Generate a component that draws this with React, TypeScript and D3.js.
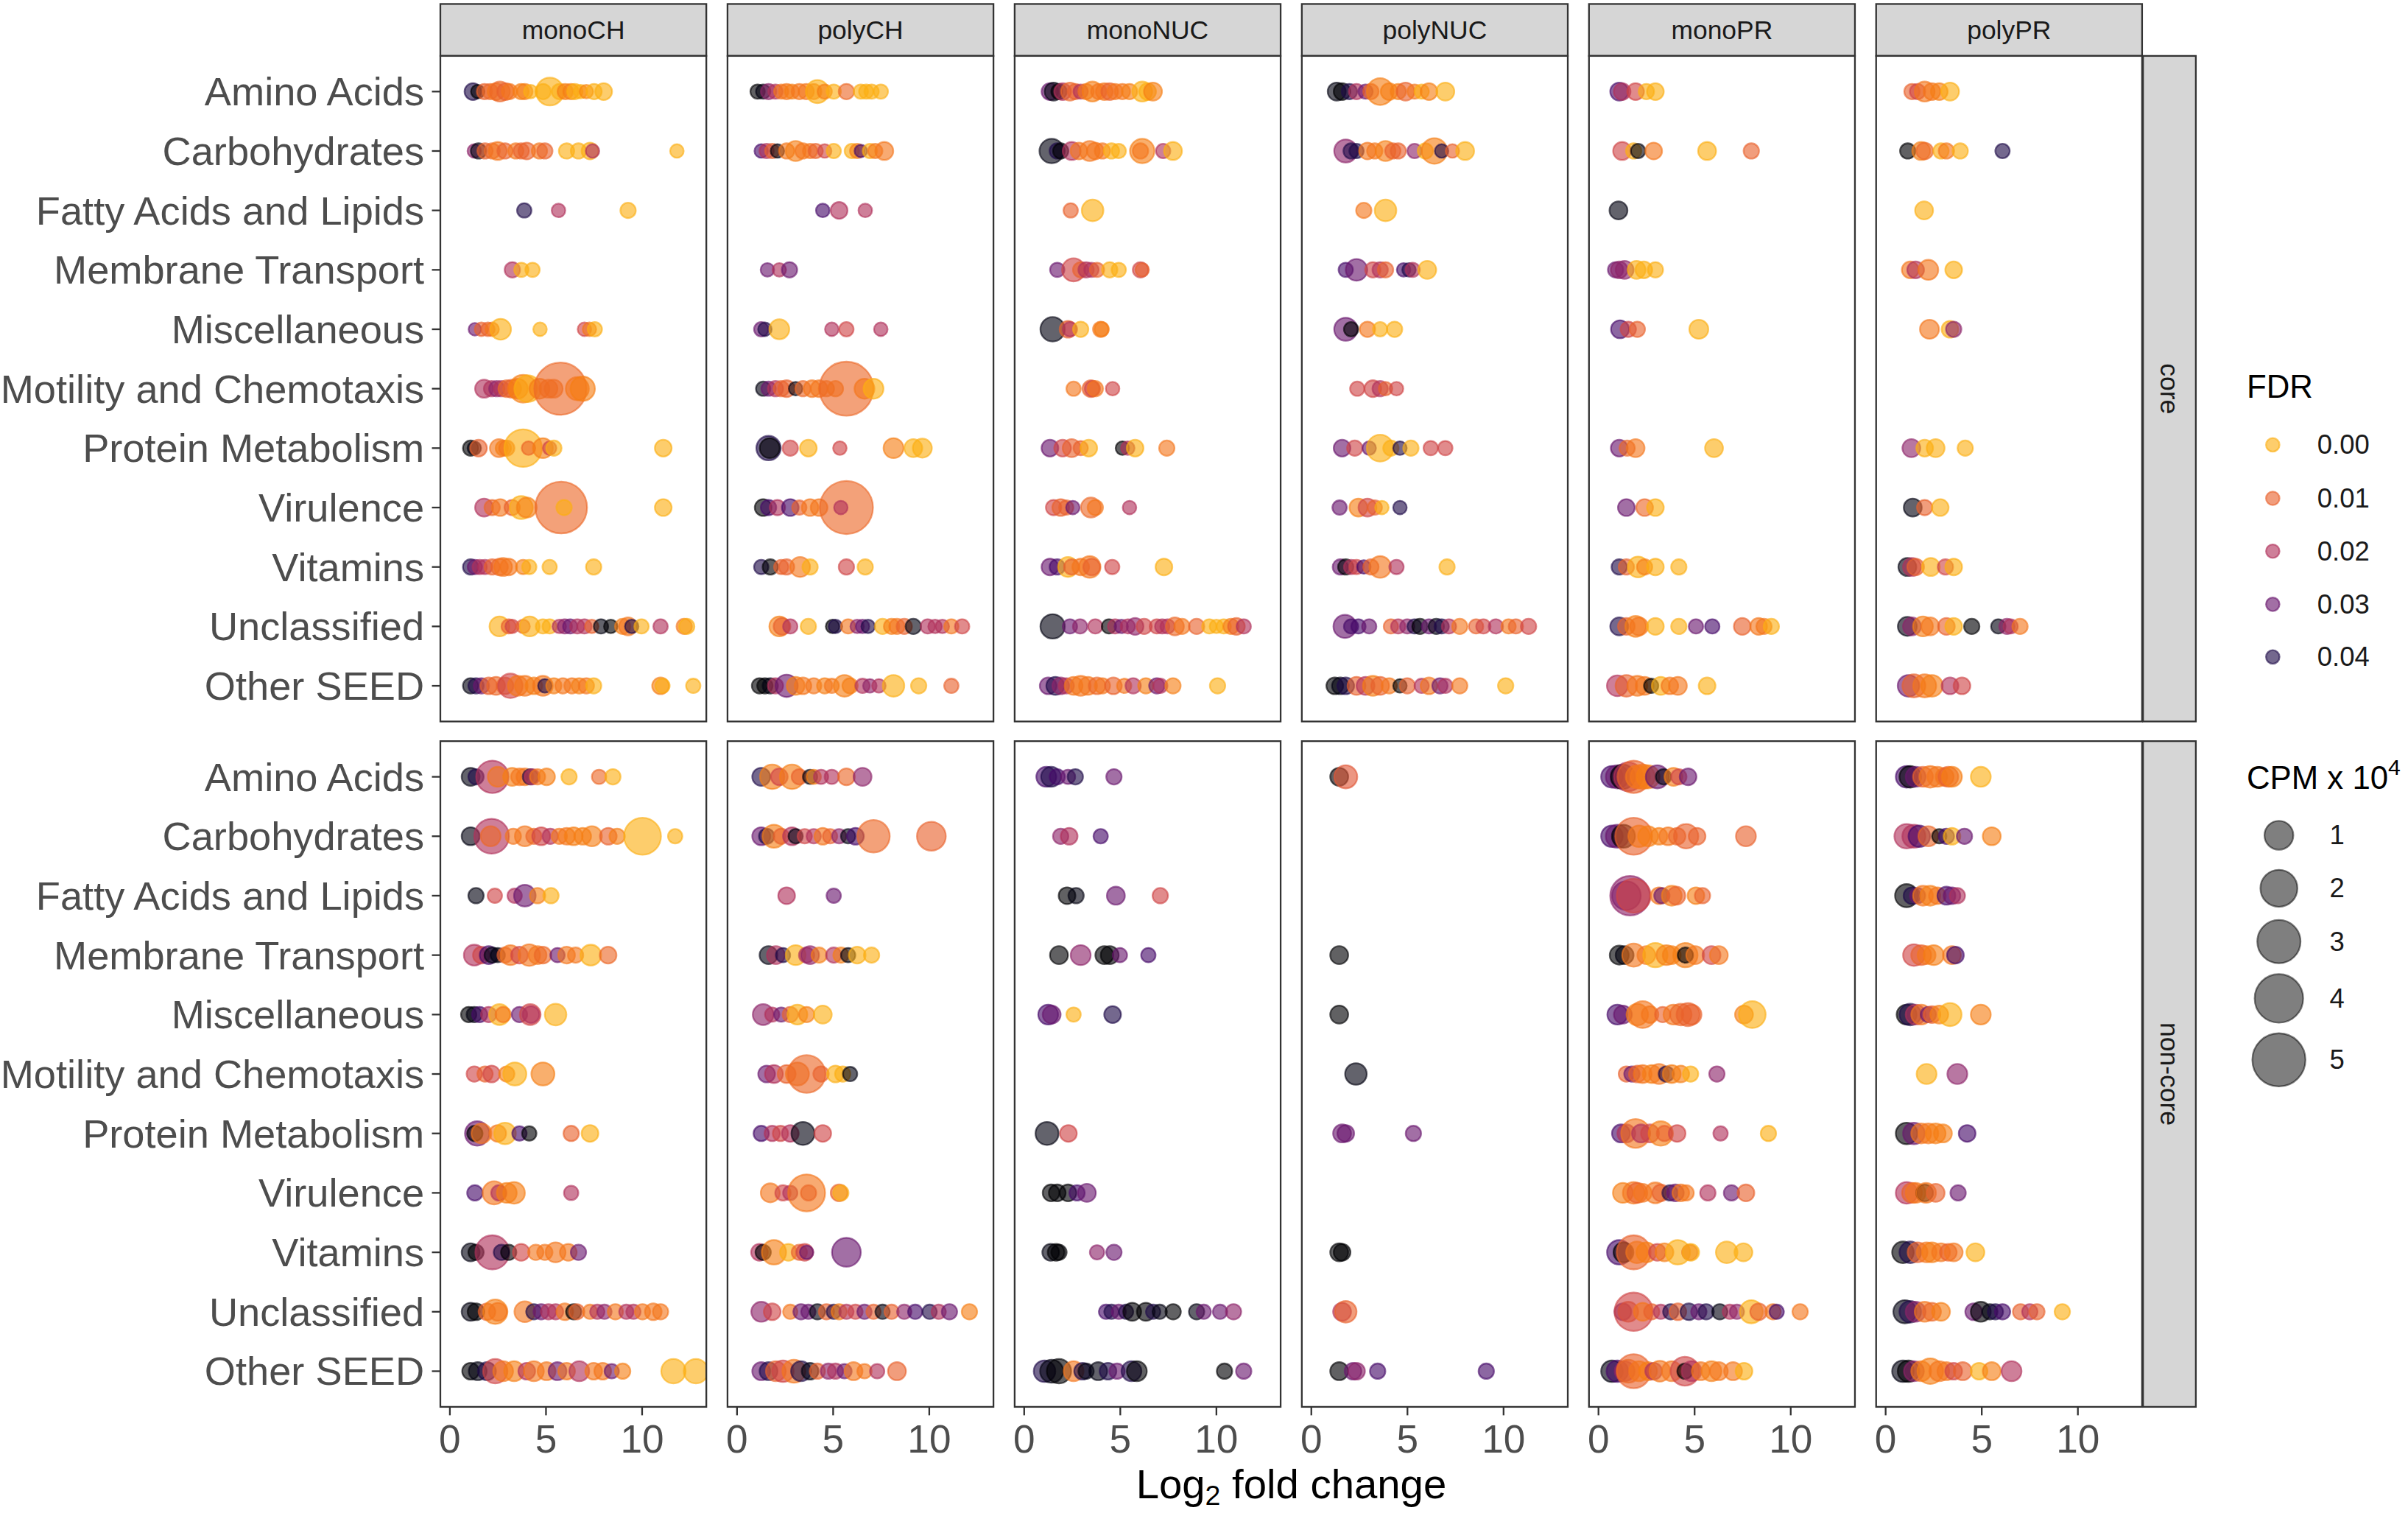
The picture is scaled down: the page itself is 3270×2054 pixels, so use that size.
import React from 'react';
import * as d3 from 'd3';

// [log2 fold change, FDR, CPM x 10^4]
type Pt = [number, number, number];

const categories = [
  'Amino Acids', 'Carbohydrates', 'Fatty Acids and Lipids', 'Membrane Transport',
  'Miscellaneous', 'Motility and Chemotaxis', 'Protein Metabolism', 'Virulence',
  'Vitamins', 'Unclassified', 'Other SEED',
];
const conditions = ['monoCH', 'polyCH', 'monoNUC', 'polyNUC', 'monoPR', 'polyPR'];
const groups = ['core', 'non-core'];
const xTicks = [0, 5, 10];
const fdrBreaks = [0, 0.01, 0.02, 0.03, 0.04];
const cpmBreaks = [1, 2, 3, 4, 5];

const monoCH_core: Pt[][] = [
  [[1.2,.04,.15],[1.45,.05,.05],[1.8,.01,.1],[2.1,.009,.1],[2.4,.007,.15],[2.6,.009,.3],[2.9,.01,.15],[3.1,.007,.1],[3.7,.006,.1],[3.9,.006,.1],[4.2,0,.05],[4.85,0,.1],[5.2,0,.9],[5.7,0,.1],[6.0,.006,.1],[6.3,.006,.1],[6.5,0,.1],[6.8,0,.05],[7.1,.005,.05],[7.5,0,.1],[8.0,0,.15]],
  [[1.27,.025,.05],[1.49,.045,.1],[1.83,.01,.1],[2.2,.009,.1],[2.49,.007,.2],[2.87,.01,.1],[3.43,.007,.1],[3.71,.01,.1],[4.0,.01,.15],[4.66,.007,.1],[4.94,.01,.1],[6.07,0,.1],[6.69,0,.1],[7.29,0,.15],[7.42,.02,.05],[11.81,0,.05]],
  [[3.87,.04,.07],[5.65,.02,.05],[9.27,0,.1]],
  [[3.25,.02,.1],[3.72,0,.07],[4.3,0,.07]],
  [[1.3,.03,.03],[1.64,.01,.05],[1.98,.01,.05],[2.2,.007,.05],[2.64,0,.35],[4.69,0,.05],[7.0,.015,.05],[7.26,.007,.05],[7.54,0,.07]],
  [[1.78,.02,.2],[2.17,.02,.1],[2.44,.025,.1],[2.68,.02,.1],[2.96,.009,.15],[3.24,.01,.2],[3.53,.007,.3],[3.81,.006,.9],[4.05,0,.8],[4.66,.006,.3],[5.13,.007,.2],[5.4,.007,.2],[5.75,.009,4.8],[6.63,.007,.5],[6.91,.006,.6]],
  [[1.08,.05,.1],[1.27,.045,.05],[1.49,.01,.15],[2.55,.007,.2],[2.78,.006,.1],[2.96,.007,.1],[3.81,0,2.1],[4.09,.009,.05],[4.84,.006,.3],[5.19,.015,.05],[5.41,0,.1],[11.1,0,.15]],
  [[1.78,.02,.2],[2.2,.009,.1],[2.62,.007,.15],[3.24,.01,.1],[3.71,0,.5],[4.0,.006,.3],[5.79,.009,4.7],[5.94,0,.1],[11.1,0,.15]],
  [[1.08,.04,.1],[1.3,.03,.07],[1.55,.02,.07],[1.83,.02,.07],[2.2,.01,.1],[2.58,.009,.15],[2.77,.007,.2],[3.06,.007,.15],[3.81,.006,.07],[4.13,0,.07],[5.19,0,.07],[7.48,0,.1]],
  [[2.58,0,.3],[3.06,.01,.07],[3.24,.015,.05],[3.81,.01,.05],[4.15,0,.3],[4.84,0,.07],[5.19,0,.07],[5.69,.02,.05],[5.98,.025,.07],[6.26,.03,.07],[6.63,.02,.07],[7.0,.02,.07],[7.38,.01,.05],[7.86,.045,.07],[8.37,.05,.05],[8.99,.006,.1],[9.27,.007,.2],[9.46,.04,.05],[9.97,0,.07],[10.96,.02,.07],[12.19,.007,.1],[12.32,0,.1]],
  [[1.08,.045,.1],[1.36,.04,.1],[1.64,.03,.1],[2.02,.01,.15],[2.4,.009,.2],[2.87,.01,.15],[3.15,.015,.6],[3.53,.007,.3],[3.9,.007,.3],[4.37,.006,.15],[4.84,.007,.3],[4.94,.04,.05],[5.41,.006,.1],[5.88,.007,.1],[6.35,.007,.1],[6.73,.006,.1],[7.1,.007,.1],[7.48,0,.1],[10.96,.006,.15],[11.06,0,.07],[12.66,0,.07]],
];

const polyCH_core: Pt[][] = [
  [[1.07,.05,.07],[1.36,.045,.07],[1.64,.025,.1],[2.0,.02,.07],[2.3,.007,.07],[2.58,.007,.1],[2.86,.006,.07],[3.24,.007,.1],[3.6,.007,.1],[3.99,.007,.1],[4.18,0,.5],[4.56,.006,.07],[5.03,0,.07],[5.69,.009,.1],[6.44,0,.07],[6.72,0,.07],[7.0,0,.07],[7.48,0,.07]],
  [[1.26,.035,.05],[1.54,.02,.07],[1.83,.01,.07],[2.1,.045,.05],[2.58,.007,.1],[3.05,.006,.3],[3.43,.007,.1],[3.8,.007,.07],[4.09,.01,.07],[4.56,.015,.05],[5.03,0,.07],[5.97,0,.07],[6.25,.006,.07],[6.44,.035,.03],[6.91,0,.07],[7.19,.007,.07],[7.66,.007,.2]],
  [[4.46,.035,.05],[5.31,.02,.15],[6.67,.02,.05]],
  [[1.58,.03,.05],[2.2,.02,.05],[2.73,.03,.1]],
  [[1.26,.03,.07],[1.45,.04,.05],[2.2,0,.3],[4.93,.02,.05],[5.69,.015,.07],[7.48,.02,.05]],
  [[1.36,.045,.07],[1.64,.03,.07],[2.0,.02,.1],[2.3,.01,.1],[2.58,.01,.15],[3.05,.045,.05],[3.43,.009,.1],[3.9,.007,.15],[4.27,.007,.15],[4.65,.007,.1],[5.12,.006,.1],[5.69,.009,5.2],[6.63,.007,.3],[7.1,0,.3]],
  [[1.64,.04,.6],[1.7,.05,.3],[2.77,.015,.1],[3.71,0,.15],[5.35,.015,.05],[8.14,.006,.3],[9.17,0,.2],[9.64,0,.25]],
  [[1.36,.05,.15],[1.64,.035,.1],[2.1,.02,.1],[2.77,.035,.15],[3.24,.01,.07],[3.8,.007,.15],[4.27,.007,.15],[5.69,.009,5.0],[5.4,.02,.05]],
  [[1.26,.04,.07],[1.73,.05,.1],[2.3,.01,.07],[2.58,.01,.1],[3.28,.007,.3],[3.8,0,.1],[5.69,.015,.1],[6.67,0,.1]],
  [[2.2,.006,.3],[2.34,.01,.15],[2.77,.02,.07],[3.71,0,.1],[4.97,.05,.05],[5.12,.04,.05],[5.78,.007,.07],[6.25,.025,.05],[6.53,.03,.05],[6.82,.04,.05],[7.57,0,.1],[8.04,.006,.1],[8.32,.007,.1],[8.7,.01,.1],[9.17,.045,.1],[9.92,.02,.07],[10.3,.02,.05],[10.68,.02,.05],[11.15,.007,.07],[11.71,.015,.07]],
  [[1.17,.05,.1],[1.45,.05,.1],[1.73,.045,.1],[2.0,.02,.1],[2.58,.03,.45],[3.05,.006,.2],[3.43,.007,.15],[3.99,.007,.1],[4.56,.006,.1],[4.93,.007,.07],[5.59,.006,.4],[5.88,.006,.1],[6.53,.02,.07],[6.91,.025,.05],[7.38,.02,.05],[8.14,0,.4],[9.45,0,.1],[11.15,.01,.07]],
];

const monoNUC_core: Pt[][] = [
  [[1.34,.03,.15],[1.53,.045,.2],[1.81,.05,.1],[2.0,.02,.15],[2.38,.009,.2],[2.66,.01,.1],[2.94,.02,.07],[3.22,.007,.1],[3.55,.006,.3],[3.88,.007,.1],[4.17,.007,.15],[4.45,.01,.15],[4.73,.007,.1],[5.11,.007,.1],[5.48,.006,.1],[6.14,0,.3],[6.42,0,.15],[6.7,.006,.2]],
  [[1.43,.045,.6],[1.72,.04,.1],[1.9,.05,.1],[2.47,.02,.2],[2.85,.007,.15],[3.41,.007,.3],[3.7,.007,.15],[4.07,.007,.1],[4.54,0,.1],[4.92,0,.07],[6.14,.006,.6],[6.05,.007,.1],[7.23,.02,.07],[7.74,0,.2]],
  [[2.42,.01,.07],[3.56,0,.4]],
  [[1.72,.03,.07],[2.57,.015,.5],[2.94,.01,.1],[3.22,.02,.1],[3.5,.02,.07],[3.79,.01,.07],[4.45,0,.1],[4.92,0,.07],[6.05,.015,.1],[6.14,.01,.05]],
  [[1.48,.045,.6],[2.28,.01,.15],[2.38,.02,.07],[2.94,0,.1],[3.98,.007,.1],[4.03,.006,.07]],
  [[2.57,.007,.07],[3.47,.01,.15],[3.55,.015,.1],[3.7,.007,.1],[4.6,.015,.05]],
  [[1.34,.03,.15],[2.0,.015,.15],[2.47,.01,.2],[2.94,.01,.07],[3.36,0,.15],[5.11,.05,.05],[5.39,.02,.05],[5.77,0,.15],[7.42,.007,.1]],
  [[1.53,.015,.1],[1.9,.01,.15],[2.19,.01,.07],[2.53,.03,.05],[3.47,.009,.3],[3.7,.007,.1],[5.48,.02,.05]],
  [[1.34,.03,.15],[1.72,.035,.1],[2.28,0,.3],[2.47,.01,.1],[2.94,.007,.15],[3.41,.007,.4],[3.51,.01,.15],[4.58,.015,.07],[7.27,0,.15]],
  [[1.48,.045,.6],[2.38,.03,.07],[2.91,.025,.07],[3.7,.02,.07],[4.41,.05,.07],[4.73,.02,.07],[5.05,.03,.05],[5.39,.02,.07],[5.77,.025,.15],[6.24,.015,.1],[6.9,.015,.07],[7.18,.02,.07],[7.46,.02,.07],[7.84,.009,.2],[8.21,.007,.1],[8.97,.01,.1],[9.63,0,.07],[10.0,0,.05],[10.38,0,.07],[10.76,.006,.1],[11.04,.01,.15],[11.42,.02,.07]],
  [[1.25,.03,.15],[1.62,.04,.2],[1.9,.025,.15],[2.19,.02,.1],[2.57,.007,.2],[2.94,.007,.3],[3.32,.007,.2],[3.79,.009,.15],[4.07,.007,.1],[4.64,.01,.15],[5.2,.007,.07],[5.67,.02,.1],[6.33,.006,.1],[6.9,.03,.1],[7.08,.02,.07],[7.74,.006,.1],[10.06,0,.1]],
];

const polyNUC_core: Pt[][] = [
  [[1.32,.045,.2],[1.6,.05,.15],[1.98,.04,.1],[2.35,.02,.1],[2.82,.03,.07],[3.1,.01,.1],[3.58,.006,.8],[4.05,.006,.15],[4.52,.006,.1],[4.9,.01,.2],[5.37,.007,.07],[5.74,0,.07],[6.12,.006,.15],[6.97,0,.2]],
  [[1.79,.025,.5],[2.07,.04,.1],[2.35,.04,.07],[2.92,.007,.15],[3.3,.007,.1],[3.86,.006,.3],[4.24,.01,.1],[4.52,.01,.1],[5.37,.025,.07],[5.93,0,.1],[6.4,.006,.7],[6.78,.04,.05],[7.34,.01,.05],[8.0,0,.2]],
  [[2.73,.007,.1],[3.86,0,.4]],
  [[1.79,.035,.07],[2.35,.03,.4],[3.2,.015,.1],[3.58,.02,.1],[3.86,.01,.1],[4.8,.035,.05],[5.08,.04,.05],[5.27,.02,.07],[6.03,0,.2]],
  [[1.79,.03,.5],[2.07,.05,.07],[2.92,.007,.1],[3.58,0,.07],[4.33,0,.1]],
  [[2.39,.015,.07],[3.2,.015,.15],[3.58,.02,.1],[3.86,.01,.05],[4.43,.015,.05]],
  [[1.6,.03,.15],[2.26,.015,.1],[3.01,.03,.05],[3.58,0,.8],[4.14,0,.1],[4.61,.04,.05],[5.18,0,.1],[6.21,.015,.07],[6.97,.015,.07]],
  [[1.47,.03,.07],[2.45,.006,.2],[2.92,.015,.2],[3.3,.01,.07],[3.67,0,.05],[4.61,.04,.05]],
  [[1.51,.03,.1],[1.79,.05,.1],[2.07,.02,.07],[2.35,.015,.07],[2.73,.035,.05],[3.1,.01,.1],[3.58,.007,.4],[4.43,.02,.07],[7.06,0,.1]],
  [[1.75,.03,.5],[2.07,.035,.07],[2.45,.035,.07],[3.01,.03,.07],[4.14,.01,.07],[4.52,.02,.07],[4.99,.025,.07],[5.37,.04,.07],[5.65,.05,.1],[6.12,.03,.07],[6.5,.045,.1],[6.78,.04,.07],[7.16,.02,.07],[7.72,.007,.1],[8.57,.01,.07],[8.95,.015,.07],[9.6,.02,.07],[10.26,.007,.07],[10.64,.01,.07],[11.3,.015,.1]],
  [[1.22,.05,.15],[1.51,.045,.15],[1.79,.04,.15],[2.35,.01,.2],[2.82,.02,.2],[3.2,.006,.3],[3.58,.01,.2],[4.05,.007,.1],[4.61,.05,.05],[4.99,.01,.1],[5.74,.02,.07],[6.12,.007,.15],[6.69,.03,.1],[6.97,.02,.07],[7.72,.007,.1],[10.11,0,.1]],
];

const monoPR_core: Pt[][] = [
  [[1.08,.035,.2],[1.23,.02,.15],[1.93,.015,.15],[2.49,0,.1],[2.96,0,.15]],
  [[1.23,.015,.2],[1.83,0,.1],[2.06,.045,.07],[2.87,.007,.15],[5.65,0,.2],[7.95,.01,.1]],
  [[1.04,.045,.2]],
  [[0.89,.03,.1],[1.08,.025,.15],[1.36,.025,.2],[1.98,0,.2],[2.36,0,.15],[2.96,0,.1]],
  [[1.12,.035,.2],[1.55,.015,.1],[2.02,.01,.1],[5.22,0,.25]],
  [],
  [[1.08,.03,.15],[1.49,.009,.1],[1.93,.007,.2],[6.01,0,.2]],
  [[1.45,.03,.15],[2.4,.009,.15],[2.96,0,.15]],
  [[1.08,.04,.1],[1.45,.01,.1],[2.06,0,.35],[2.4,.006,.1],[2.96,0,.15],[4.18,0,.1]],
  [[1.08,.04,.2],[1.45,.01,.15],[1.93,.006,.35],[2.11,.007,.2],[2.96,0,.15],[4.18,0,.1],[5.07,.03,.07],[5.92,.035,.07],[7.48,.01,.15],[8.33,.007,.15],[8.61,.007,.1],[8.99,0,.1]],
  [[0.98,.02,.35],[1.45,.01,.4],[2.02,.007,.3],[2.4,.007,.2],[2.74,.05,.07],[3.24,0,.2],[3.71,.007,.15],[4.13,.007,.2],[5.65,0,.15]],
];

const polyPR_core: Pt[][] = [
  [[1.37,.01,.1],[1.66,.015,.1],[2.03,.007,.3],[2.41,.007,.15],[2.79,.006,.15],[3.35,0,.2]],
  [[1.15,.05,.1],[1.85,.006,.2],[2.03,.009,.15],[2.88,0,.1],[3.16,.007,.1],[3.88,0,.1],[6.08,.04,.07]],
  [[2.0,0,.2]],
  [[1.28,.007,.15],[1.56,.02,.15],[2.22,.007,.3],[3.54,0,.15]],
  [[2.28,.007,.25],[3.35,0,.15],[3.54,.025,.1]],
  [],
  [[1.34,.025,.2],[2.03,0,.15],[2.6,0,.2],[4.14,0,.1]],
  [[1.41,.045,.2],[2.03,.01,.1],[2.84,0,.15]],
  [[1.13,.045,.2],[1.37,.02,.2],[1.56,.01,.15],[2.35,0,.2],[3.11,.015,.1],[3.54,0,.15]],
  [[1.13,.045,.25],[1.37,.025,.2],[1.94,.006,.3],[2.32,.007,.2],[3.16,.01,.15],[3.54,0,.15],[4.48,.05,.1],[5.86,.045,.07],[6.31,.025,.1],[6.5,.02,.07],[6.99,.007,.1]],
  [[1.19,.03,.4],[1.47,.01,.5],[2.03,.007,.5],[2.41,.006,.4],[3.35,.02,.15],[3.97,.015,.15]],
];

const monoCH_noncore: Pt[][] = [
  [[1.08,.045,.2],[1.36,.04,.1],[2.21,.02,1.4],[2.49,.007,.3],[3.24,.006,.2],[3.62,.007,.15],[3.9,.007,.15],[4.19,.04,.1],[4.28,.02,.1],[4.56,.007,.1],[5.03,.006,.15],[6.2,0,.1],[7.76,.009,.07],[8.48,0,.1]],
  [[1.08,.045,.2],[2.17,.02,1.7],[2.12,.009,.3],[3.3,.007,.1],[3.9,.007,.3],[4.37,.009,.1],[4.75,.015,.2],[5.22,.02,.1],[5.69,.007,.1],[6.07,.007,.15],[6.44,.006,.2],[6.91,.006,.15],[7.39,.006,.3],[8.24,.01,.15],[8.7,.006,.1],[10.02,0,2.0],[11.72,0,.07]],
  [[1.36,.045,.1],[2.34,.015,.07],[3.37,.02,.07],[3.9,.03,.4],[4.56,.006,.1],[5.26,0,.1]],
  [[1.27,.02,.35],[1.64,.015,.15],[2.02,.035,.2],[2.2,.045,.1],[2.49,.045,.07],[2.87,.01,.1],[3.15,.007,.3],[3.62,.015,.15],[4.13,.007,.4],[4.56,.007,.2],[4.84,.009,.15],[5.6,.03,.07],[6.07,.007,.15],[6.54,.007,.1],[7.33,0,.35],[8.23,.009,.15]],
  [[0.98,.05,.1],[1.27,.045,.1],[1.55,.035,.1],[2.02,.02,.1],[2.58,0,.35],[2.77,.007,.1],[3.62,.03,.1],[4.18,.015,.35],[4.22,.02,.15],[5.5,0,.4]],
  [[1.27,.015,.1],[1.83,.01,.1],[2.17,.015,.15],[2.96,.006,.1],[3.38,0,.5],[4.84,.006,.5]],
  [[1.42,.03,.6],[1.3,.05,.1],[1.64,.007,.3],[2.49,.007,.15],[2.87,0,.4],[3.62,.035,.07],[4.13,.05,.07],[6.31,.01,.1],[7.29,0,.15]],
  [[1.3,.035,.1],[2.3,.007,.5],[2.55,.02,.1],[2.96,.006,.3],[3.34,.006,.4],[6.31,.02,.07]],
  [[1.08,.045,.2],[1.36,.05,.1],[2.21,.02,1.6],[2.68,.04,.1],[3.06,.05,.1],[3.71,.015,.15],[4.47,.007,.1],[4.94,.007,.1],[5.5,.007,.3],[6.16,.007,.15],[6.69,.03,.1]],
  [[1.08,.045,.2],[1.36,.05,.15],[1.93,.01,.15],[2.36,.006,.6],[2.5,.007,.2],[3.9,.007,.35],[4.37,.04,.1],[4.75,.03,.1],[5.13,.02,.1],[5.5,.02,.1],[5.98,.007,.15],[6.44,.05,.1],[6.6,.01,.1],[7.29,.007,.07],[7.67,.02,.07],[8.04,.025,.07],[8.61,.007,.1],[9.18,.02,.07],[9.55,.02,.07],[10.02,.007,.1],[10.58,.007,.15],[10.96,.007,.1]],
  [[1.08,.05,.15],[1.45,.045,.2],[1.93,.04,.2],[2.36,.015,.6],[2.77,.007,.3],[3.34,.006,.3],[4.0,.02,.15],[4.37,.007,.3],[5.03,.007,.2],[5.6,.03,.2],[6.07,.007,.15],[6.73,.02,.3],[7.48,.007,.15],[7.95,.007,.15],[8.42,.03,.07],[8.99,.006,.1],[11.63,0,.6],[12.8,0,.6]],
];

const polyCH_noncore: Pt[][] = [
  [[1.26,.04,.2],[1.83,.006,.6],[2.2,.015,.15],[2.86,.006,.6],[3.24,.01,.1],[3.8,.045,.07],[3.99,.006,.07],[4.37,.02,.07],[4.93,.02,.07],[5.69,.009,.15],[6.53,.025,.2]],
  [[1.26,.03,.2],[1.54,.04,.1],[1.92,.006,.5],[2.3,.01,.1],[2.86,.02,.2],[3.05,.045,.07],[3.52,.015,.07],[3.99,.02,.07],[4.46,.007,.15],[4.84,.01,.07],[5.31,.025,.07],[5.78,.045,.07],[6.16,.035,.15],[7.1,.009,1.4],[10.11,.01,1.0]],
  [[2.58,.02,.15],[5.03,.03,.07]],
  [[1.64,.045,.2],[2.02,.02,.2],[2.39,.04,.07],[3.05,0,.3],[3.62,.02,.1],[3.8,.025,.2],[4.27,.006,.1],[5.03,.02,.1],[5.41,.006,.1],[5.78,.045,.07],[6.25,0,.15],[7.0,0,.1]],
  [[1.36,.025,.35],[1.83,.02,.07],[2.3,.03,.07],[2.77,.01,.1],[3.14,0,.3],[3.62,.006,.1],[4.46,0,.2]],
  [[1.54,.03,.15],[1.92,.02,.2],[2.58,.01,.2],[3.14,.007,.5],[3.62,.009,2.1],[4.37,.01,.1],[5.12,0,.15],[5.5,0,.1],[5.88,.045,.07]],
  [[1.26,.035,.1],[1.83,.02,.1],[2.26,.015,.1],[2.77,.02,.15],[3.43,.045,.5],[4.46,.015,.15]],
  [[1.73,.007,.25],[2.39,.015,.1],[2.77,.02,.07],[3.62,.007,2.0],[3.72,.009,.1],[5.31,.01,.15],[5.4,0,.1]],
  [[1.17,.02,.15],[1.36,.05,.1],[1.92,.006,.6],[2.67,0,.15],[3.24,.01,.1],[3.52,.015,.15],[3.62,.03,.05],[5.69,.03,1.0]],
  [[1.26,.025,.3],[1.83,.015,.15],[2.77,.007,.07],[3.33,.03,.1],[3.71,.03,.07],[4.18,.045,.1],[4.65,.01,.1],[5.03,.04,.07],[5.31,.006,.1],[5.69,.02,.07],[6.16,.015,.07],[6.63,.03,.07],[7.1,.01,.07],[7.57,.045,.07],[8.04,.01,.07],[8.7,.025,.07],[9.27,.035,.07],[10.02,.04,.07],[10.49,.02,.07],[11.05,.03,.1],[12.09,.006,.1]],
  [[1.26,.03,.2],[1.64,.04,.2],[2.02,.01,.3],[2.39,.015,.4],[2.96,.007,.5],[3.33,.04,.3],[3.8,.045,.15],[4.18,.01,.1],[4.75,.025,.1],[5.12,.02,.1],[5.59,.03,.07],[6.06,.007,.2],[6.63,.007,.07],[7.29,.02,.07],[8.32,.01,.2]],
];

const monoNUC_noncore: Pt[][] = [
  [[1.15,.035,.3],[1.4,.04,.3],[1.72,.035,.1],[2.28,.03,.07],[2.66,.04,.1],[4.67,.03,.1]],
  [[1.9,.025,.1],[2.34,.02,.15],[3.98,.035,.07]],
  [[2.23,.05,.15],[2.7,.045,.1],[4.77,.03,.2],[7.08,.015,.1]],
  [[1.81,.05,.2],[2.94,.025,.3],[4.17,.05,.2],[4.45,.05,.2],[4.98,.03,.07],[6.46,.035,.07]],
  [[1.25,.035,.3],[1.43,.03,.2],[2.57,0,.07],[4.6,.04,.15]],
  [],
  [[1.19,.045,.5],[2.3,.015,.15]],
  [[1.4,.05,.15],[1.72,.05,.15],[2.28,.05,.15],[2.75,.035,.1],[3.26,.03,.2]],
  [[1.38,.045,.15],[1.66,.05,.15],[1.81,.05,.1],[3.79,.025,.07],[4.67,.03,.1]],
  [[4.26,.035,.07],[4.54,.04,.07],[4.92,.03,.07],[5.3,.04,.07],[5.62,.05,.2],[6.33,.05,.2],[6.71,.04,.07],[7.05,.045,.07],[7.75,.05,.1],[8.97,.045,.1],[9.34,.03,.07],[10.19,.03,.07],[10.89,.025,.1]],
  [[1.06,.04,.4],[1.43,.045,.5],[1.81,.05,.6],[2.57,.007,.3],[3.04,.04,.15],[3.22,.045,.1],[3.85,.045,.2],[4.36,.04,.15],[4.83,.03,.1],[5.58,.04,.3],[5.86,.05,.3],[10.42,.05,.1],[11.42,.03,.1]],
];

const polyNUC_noncore: Pt[][] = [
  [[1.45,.05,.2],[1.79,.012,.5]],
  [],
  [],
  [[1.45,.05,.2]],
  [[1.45,.05,.2]],
  [[2.32,.045,.4]],
  [[1.6,.03,.2],[1.79,.03,.15],[5.31,.03,.1]],
  [],
  [[1.45,.05,.2],[1.6,.05,.15]],
  [[1.6,.02,.2],[1.79,.01,.4]],
  [[1.45,.05,.2],[2.17,.03,.15],[2.35,.025,.15],[3.45,.035,.1],[9.1,.035,.1]],
];

const monoPR_noncore: Pt[][] = [
  [[0.7,.035,.4],[0.98,.03,.5],[1.27,.05,.6],[1.55,.02,1.0],[1.83,.01,1.4],[2.02,.007,.5],[2.3,.007,.6],[2.58,.006,.5],[3.06,.03,.5],[3.38,.045,.1],[3.9,.006,.2],[4.18,.015,.1],[4.66,.03,.15]],
  [[0.7,.035,.4],[0.98,.03,.5],[1.3,.05,.5],[1.83,.01,2.0],[2.11,.007,.4],[2.58,.006,.3],[3.15,.006,.15],[3.62,.007,.2],[4.09,.009,.15],[4.56,.01,.6],[5.13,.01,.15],[7.67,.01,.3]],
  [[1.45,.03,1.0],[1.64,.025,2.4],[1.83,.015,1.6],[3.15,.007,.15],[3.3,.03,.1],[3.81,.006,.3],[4.05,.01,.2],[5.07,.006,.15],[5.41,.01,.1]],
  [[1.08,.05,.25],[1.36,.045,.2],[1.83,.007,.5],[2.49,.007,.2],[2.96,0,.6],[3.53,.006,.3],[3.81,.006,.2],[4.52,.006,.6],[4.52,.05,.1],[5.03,.007,.2],[5.88,.015,.2],[6.26,.007,.2]],
  [[0.98,.035,.3],[1.27,.03,.2],[2.02,.006,.4],[2.3,.007,.8],[2.68,.007,.15],[3.34,.01,.1],[3.9,.007,.3],[4.28,.009,.4],[4.66,.01,.5],[4.84,.01,.3],[7.57,.006,.2],[8.0,0,.8]],
  [[1.45,.01,.1],[1.74,.03,.1],[2.02,.01,.15],[2.3,.007,.2],[2.77,.006,.2],[3.15,.007,.3],[3.53,.04,.1],[3.81,.006,.2],[4.28,.006,.15],[4.79,0,.1],[6.16,.025,.1]],
  [[1.17,.035,.2],[1.45,.02,.2],[1.93,.007,1.0],[2.21,.02,.2],[2.68,.015,.2],[3.24,.006,.6],[3.43,.01,.1],[4.09,.015,.15],[6.35,.02,.07],[8.84,0,.1]],
  [[1.27,.006,.3],[1.83,.007,.4],[2.02,.01,.3],[2.3,.007,.2],[2.96,.007,.35],[3.24,.01,.15],[3.72,.04,.1],[4.0,.03,.15],[4.28,.007,.15],[4.56,.007,.1],[5.69,.02,.1],[6.92,.03,.1],[7.67,.01,.15]],
  [[1.08,.035,.6],[1.3,.05,.3],[1.83,.01,1.6],[2.0,.007,.4],[2.49,.006,.3],[3.06,.015,.15],[3.43,.006,.2],[4.13,0,.6],[4.75,.01,.1],[4.8,0,.15],[6.67,0,.4],[7.54,0,.2]],
  [[1.27,.03,.15],[1.55,.01,.3],[1.83,.015,2.2],[2.3,.007,.2],[2.77,.01,.1],[3.24,.02,.07],[3.76,.04,.1],[4.13,.01,.15],[4.7,.04,.15],[5.22,.03,.1],[5.6,.04,.1],[6.31,.045,.1],[6.83,.02,.07],[7.2,.025,.07],[7.95,0,.5],[8.33,.01,.15],[9.08,.007,.1],[9.27,.035,.07],[10.49,.007,.1]],
  [[0.7,.045,.4],[0.98,.035,.4],[1.36,.025,.3],[1.55,.007,.5],[1.83,.01,1.6],[2.11,.007,.3],[2.58,.006,.2],[2.87,.02,.15],[3.19,.007,.35],[3.81,.007,.3],[4.5,.015,1.0],[4.5,.05,.1],[4.84,.02,.3],[5.32,.007,.2],[5.88,.006,.3],[6.26,.007,.2],[7.0,.007,.2],[7.57,0,.15]],
];

const polyPR_noncore: Pt[][] = [
  [[1.09,.035,.4],[1.28,.05,.4],[1.56,.03,.3],[1.94,.01,.3],[2.32,.007,.4],[2.69,.007,.3],[3.07,.007,.2],[3.26,.01,.3],[3.45,.006,.3],[4.95,0,.3]],
  [[1.09,.02,.6],[1.47,.02,.5],[1.75,.035,.4],[2.22,.009,.3],[2.79,.05,.07],[3.16,.035,.1],[3.45,0,.15],[4.1,.03,.1],[5.52,.006,.2]],
  [[1.09,.05,.5],[1.37,.04,.15],[1.66,.03,.1],[1.94,.007,.3],[2.32,.006,.3],[2.69,.007,.15],[3.16,.035,.2],[3.45,.03,.15],[3.73,.02,.1]],
  [[1.47,.015,.4],[1.85,.01,.3],[2.13,.007,.2],[2.5,.006,.3],[3.45,.007,.2],[3.63,.035,.15]],
  [[1.09,.05,.3],[1.28,.04,.4],[1.56,.02,.3],[1.85,.007,.3],[2.22,.03,.1],[2.41,.01,.15],[2.79,.006,.2],[3.35,0,.5],[4.95,.006,.3]],
  [[2.13,0,.3],[3.73,.025,.3]],
  [[1.09,.05,.4],[1.47,.03,.4],[1.85,.007,.3],[2.22,.007,.3],[2.6,.006,.3],[2.98,.006,.2],[4.24,.035,.15]],
  [[1.09,.02,.4],[1.37,.01,.3],[1.56,.007,.3],[2.03,.05,.15],[2.1,.007,.3],[2.6,.01,.2],[3.77,.03,.1]],
  [[0.9,.05,.4],[1.28,.04,.4],[1.66,.01,.3],[2.13,.007,.3],[2.41,.006,.3],[2.88,.007,.2],[3.26,.01,.15],[3.54,.007,.2],[4.67,0,.2]],
  [[1.0,.045,.5],[1.28,.04,.4],[1.56,.025,.3],[2.03,.007,.3],[2.41,.009,.2],[2.88,.006,.2],[4.58,.03,.15],[4.95,.05,.3],[5.42,.045,.1],[5.71,.04,.1],[6.08,.035,.1],[7.02,.01,.1],[7.5,.02,.1],[7.87,.01,.1],[9.19,0,.1]],
  [[0.9,.045,.4],[1.19,.05,.4],[1.47,.025,.3],[1.85,.007,.3],[2.32,.006,.7],[2.79,.007,.3],[3.16,.007,.2],[3.54,.015,.15],[4.01,.01,.2],[4.86,0,.15],[5.52,.006,.2],[6.55,.02,.3]],
];

const panelData: Pt[][][][] = [
  [monoCH_core, polyCH_core, monoNUC_core, polyNUC_core, monoPR_core, polyPR_core],
  [monoCH_noncore, polyCH_noncore, monoNUC_noncore, polyNUC_noncore, monoPR_noncore, polyPR_noncore],
];

const FONT = '"Liberation Sans", Arial, Helvetica, sans-serif';
const ALPHA = 0.62;

export default function App() {
  const W = 1568;
  const H = 985;
  const panelLeft0 = 286.7;
  const panelW = 173.2;
  const panelStep = 187;
  const stripTop = 2.6;
  const stripH = 33.8;
  const rightStripW = 34.4;
  const rows = [
    { top: 36.4, bottom: 469.7 },
    { top: 482.5, bottom: 915.9 },
  ];
  const panelRight = panelLeft0 + panelStep * 5 + panelW;

  const x = d3.scaleLinear().domain([-0.495, 13.34]).range([0, panelW]);
  const r = d3.scaleSqrt().domain([0, 5]).range([3, 17.3]);
  const color = (f: number) =>
    d3.interpolateInferno(0.82 * (1 - Math.min(f, 0.047) / 0.047));

  const yScales = rows.map((row) =>
    d3.scalePoint<string>().domain(categories).range([row.top, row.bottom]).padding(0.6)
  );

  const axisGrey = '#4D4D4D';
  const lineCol = '#333333';

  const fdrKeyY = [289.6, 324.4, 358.8, 393.4, 427.7];
  const cpmKeyY = [543.8, 578.3, 613.0, 650.0, 690.0];

  return (
    <svg
      width={3270}
      height={2054}
      viewBox={`0 0 ${W} ${H}`}
      style={{ position: 'absolute', left: 0, top: 0, display: 'block', background: '#fff' }}
      fontFamily={FONT}
    >
      <rect x={0} y={0} width={W} height={H} fill="#fff" />
      <defs>
        {rows.map((row, ri) =>
          conditions.map((c, ci) => (
            <clipPath id={`clip-${ri}-${ci}`} key={`${ri}-${ci}`}>
              <rect x={panelLeft0 + ci * panelStep} y={row.top} width={panelW} height={row.bottom - row.top} />
            </clipPath>
          ))
        )}
      </defs>

      {/* column strips */}
      {conditions.map((c, ci) => (
        <g key={c}>
          <rect x={panelLeft0 + ci * panelStep} y={stripTop} width={panelW} height={stripH}
            fill="#D6D6D6" stroke={lineCol} strokeWidth={1.1} />
          <text x={panelLeft0 + ci * panelStep + panelW / 2} y={stripTop + stripH / 2}
            textAnchor="middle" dominantBaseline="central" fontSize={17} fill="#1A1A1A">{c}</text>
        </g>
      ))}

      {rows.map((row, ri) => (
        <g key={`row-${ri}`}>
          {/* row strip */}
          <rect x={panelRight + 0.6} y={row.top} width={rightStripW} height={row.bottom - row.top}
            fill="#D6D6D6" stroke={lineCol} strokeWidth={1.1} />
          <text transform={`translate(${panelRight + 0.6 + rightStripW / 2},${(row.top + row.bottom) / 2}) rotate(90)`}
            textAnchor="middle" dominantBaseline="central" fontSize={17} fill="#1A1A1A">{groups[ri]}</text>

          {/* y axis labels and ticks */}
          {categories.map((cat) => {
            const yy = yScales[ri](cat) as number;
            return (
              <g key={cat}>
                <line x1={panelLeft0 - 5.5} x2={panelLeft0} y1={yy} y2={yy} stroke={lineCol} strokeWidth={1.1} />
                <text x={panelLeft0 - 10.5} y={yy} textAnchor="end" dominantBaseline="central"
                  fontSize={26} fill={axisGrey}>{cat}</text>
              </g>
            );
          })}

          {conditions.map((c, ci) => {
            const px = panelLeft0 + ci * panelStep;
            const pd = panelData[ri][ci];
            return (
              <g key={c}>
                <rect x={px} y={row.top} width={panelW} height={row.bottom - row.top} fill="#fff" />
                <g clipPath={`url(#clip-${ri}-${ci})`}>
                  {pd.map((pts, k) => {
                    const yy = yScales[ri](categories[k]) as number;
                    return pts.map((p, j) => {
                      const col = color(p[1]);
                      return (
                        <circle key={`${k}-${j}`} cx={px + x(p[0])} cy={yy} r={r(p[2])}
                          fill={col} fillOpacity={ALPHA} stroke={col} strokeOpacity={ALPHA} strokeWidth={1.1} />
                      );
                    });
                  })}
                </g>
                <rect x={px} y={row.top} width={panelW} height={row.bottom - row.top}
                  fill="none" stroke={lineCol} strokeWidth={1.1} />
                {ri === 1 &&
                  xTicks.map((t) => (
                    <g key={t}>
                      <line x1={px + x(t)} x2={px + x(t)} y1={row.bottom} y2={row.bottom + 5.5}
                        stroke={lineCol} strokeWidth={1.1} />
                      <text x={px + x(t)} y={945.6} textAnchor="middle" fontSize={25.5} fill={axisGrey}>{t}</text>
                    </g>
                  ))}
              </g>
            );
          })}
        </g>
      ))}

      {/* x axis title */}
      <text x={(panelLeft0 + panelRight) / 2} y={975.5} textAnchor="middle" fontSize={27} fill="#000">
        Log<tspan fontSize={18} dy={4}>2</tspan><tspan dy={-4}> fold change</tspan>
      </text>

      {/* FDR legend */}
      <text x={1463} y={259} fontSize={21} fill="#000">FDR</text>
      {fdrBreaks.map((b, i) => {
        const col = color(b);
        return (
          <g key={b}>
            <circle cx={1480} cy={fdrKeyY[i]} r={4.4} fill={col} fillOpacity={ALPHA}
              stroke={col} strokeOpacity={ALPHA} strokeWidth={1.1} />
            <text x={1509} y={fdrKeyY[i]} dominantBaseline="central" fontSize={17.5} fill="#1A1A1A">
              {d3.format('.2f')(b)}
            </text>
          </g>
        );
      })}

      {/* size legend */}
      <text x={1463} y={513.6} fontSize={21} fill="#000">
        CPM x 10<tspan fontSize={14.5} dy={-9}>4</tspan>
      </text>
      {cpmBreaks.map((b, i) => (
        <g key={b}>
          <circle cx={1484} cy={cpmKeyY[i]} r={r(b)} fill="#000" fillOpacity={0.5}
            stroke="#000" strokeOpacity={0.5} strokeWidth={1.1} />
          <text x={1517} y={cpmKeyY[i]} dominantBaseline="central" fontSize={17.5} fill="#1A1A1A">{b}</text>
        </g>
      ))}
    </svg>
  );
}
